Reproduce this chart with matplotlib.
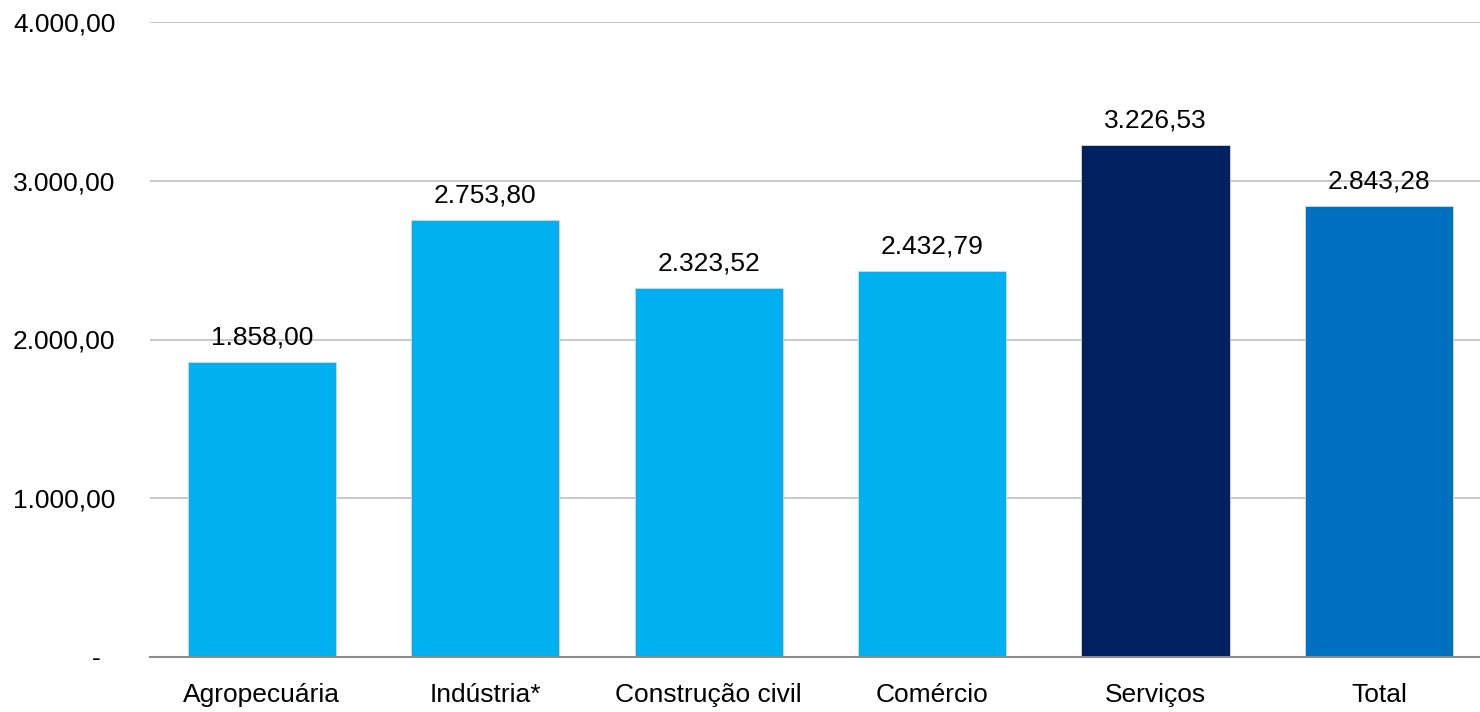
import matplotlib
matplotlib.use("Agg")
import matplotlib.pyplot as plt
import matplotlib.transforms as mtransforms

categories = ["Agropecuária", "Indústria*", "Construção civil", "Comércio", "Serviços", "Total"]
values = [1858.00, 2753.80, 2323.52, 2432.79, 3226.53, 2843.28]
colors = ["#00B0F0", "#00B0F0", "#00B0F0", "#00B0F0", "#002060", "#0070C0"]
yticks = [0, 1000, 2000, 3000, 4000]
ytick_labels = ["-", "1.000,00", "2.000,00", "3.000,00", "4.000,00"]


def br(v):
    s = f"{v:,.2f}"
    return s.replace(",", "X").replace(".", ",").replace("X", ".")


plt.rcParams["font.family"] = ["Liberation Sans", "DejaVu Sans"]
FS = 19

fig = plt.figure(figsize=(14.8, 7.12), dpi=100)
ax = fig.add_axes([150 / 1480, 55 / 712, 1340.7 / 1480, 635 / 712])

x = list(range(len(categories)))
ax.bar(x, values, width=0.663, color=colors, edgecolor="#D9D9D9", linewidth=0.6, zorder=3)

for xi, v in zip(x, values):
    ax.annotate(br(v), (xi, v), xytext=(0, 9), textcoords="offset points",
                ha="center", va="bottom", fontsize=FS, color="#000000", zorder=4)

ax.set_xlim(-0.5, 5.5)
ax.set_ylim(0, 4000)
ax.set_yticks(yticks)
ax.set_yticklabels(ytick_labels, fontsize=FS)
ax.set_xticks(x)
ax.set_xticklabels(categories, fontsize=FS)

ax.grid(axis="y", color="#BFBFBF", linewidth=1.2, zorder=0)
ax.set_axisbelow(True)
for s in ["top", "right", "left"]:
    ax.spines[s].set_visible(False)
ax.spines["bottom"].set_color("#8C8C8C")
ax.spines["bottom"].set_linewidth(1.5)
ax.spines["bottom"].set_zorder(5)
ax.tick_params(axis="y", length=0, pad=25, colors="#000000")
ax.tick_params(axis="x", length=0, pad=19, colors="#000000")

# accounting-style dash offset
lbl0 = ax.get_yticklabels()[0]
lbl0.set_transform(lbl0.get_transform() + mtransforms.ScaledTranslation(-15 / 100, 0, fig.dpi_scale_trans))

fig.savefig("out.png", dpi=100)
